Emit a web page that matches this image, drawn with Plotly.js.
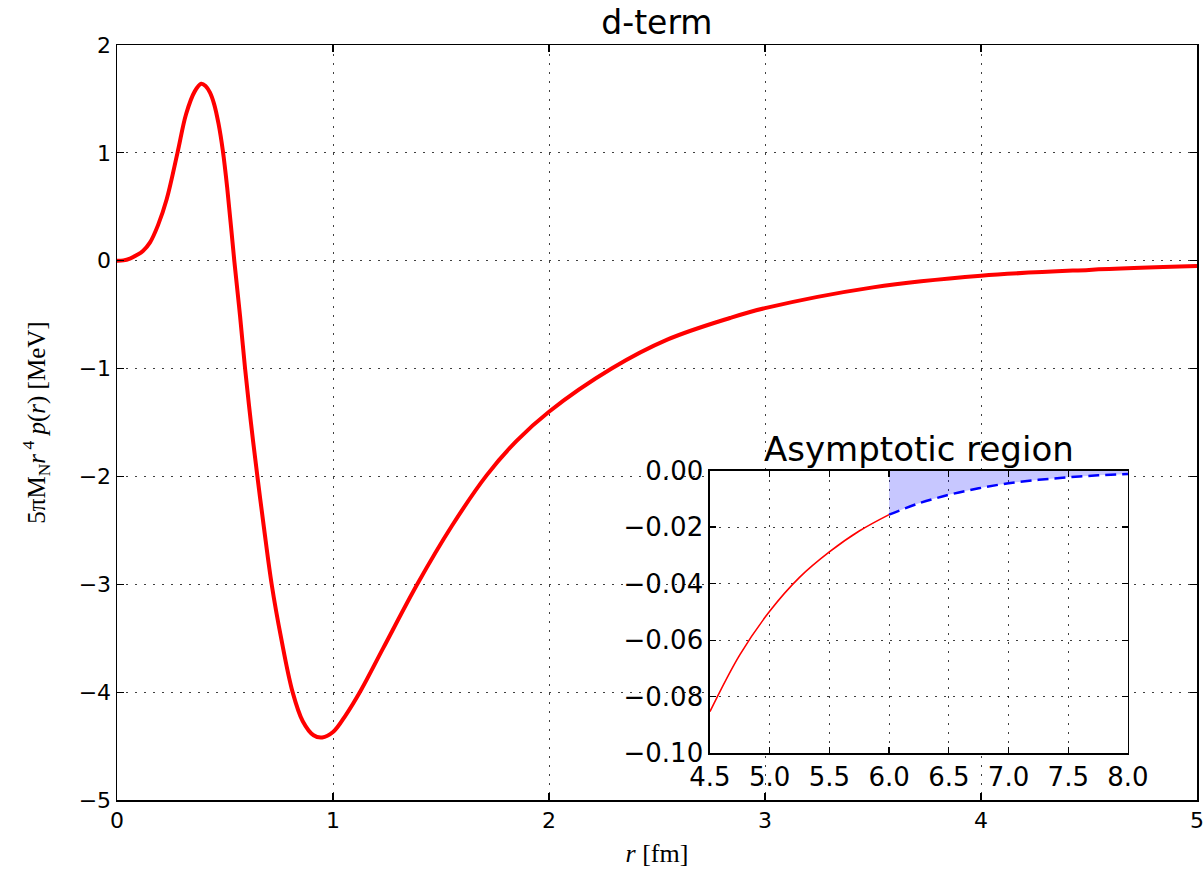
<!DOCTYPE html>
<html>
<head>
<meta charset="utf-8">
<script src="https://cdn.plot.ly/plotly-3.0.1.min.js"></script>
<style>
  html, body { margin: 0; padding: 0; background: #fff; }
  #chart { width: 1204px; height: 869px; }
</style>
</head>
<body>
<div id="chart"></div>
<script>
// ---- Main curve: r [fm] vs 5πM_N r^4 p(r) [MeV]
const rMain = [0, 0.03, 0.06, 0.09, 0.12, 0.153, 0.19, 0.23, 0.28, 0.32, 0.36, 0.39, 0.41, 0.43, 0.45, 0.47, 0.49, 0.51, 0.543, 0.57, 0.593, 0.62, 0.65, 0.68, 0.716, 0.76, 0.813, 0.86, 0.91, 0.95, 1.0, 1.06, 1.13, 1.233, 1.39, 1.55, 1.711, 1.85, 2.0, 2.29, 2.55, 2.838, 3.0, 3.5, 4.0, 4.5, 5.0];
const vMain = [0, 0.003, 0.02, 0.05, 0.09, 0.17, 0.33, 0.57, 1.0, 1.36, 1.57, 1.64, 1.62, 1.56, 1.45, 1.27, 1.02, 0.68, 0, -0.52, -1.0, -1.5, -2.0, -2.47, -3.0, -3.5, -4.0, -4.27, -4.40, -4.42, -4.37, -4.21, -3.98, -3.59, -3.0, -2.46, -1.99, -1.67, -1.40, -1.0, -0.73, -0.531, -0.44, -0.247, -0.139, -0.085, -0.05];

// ---- Inset: asymptotic region
const rInsetRed = [4.5, 4.75, 5.0, 5.25, 5.5, 5.75, 6.0];
const vInsetRed = [-0.0853, -0.0652, -0.0498, -0.0378, -0.0288, -0.0214, -0.0156];
const rInsetBlue = [6.0, 6.25, 6.5, 6.75, 7.0, 7.25, 7.5, 7.75, 8.0];
const vInsetBlue = [-0.0156, -0.0116, -0.0086, -0.0063, -0.0045, -0.0033, -0.0024, -0.0017, -0.0012];

// ---- Tick labels
const mainXTicks = [0, 1, 2, 3, 4, 5];
const mainXLabels = ["0", "1", "2", "3", "4", "5"];
const mainYTicks = [-5, -4, -3, -2, -1, 0, 1, 2];
const mainYLabels = ["\u22125", "\u22124", "\u22123", "\u22122", "\u22121", "0", "1", "2"];
const insetXTicks = [4.5, 5.0, 5.5, 6.0, 6.5, 7.0, 7.5, 8.0];
const insetXLabels = ["4.5", "5.0", "5.5", "6.0", "6.5", "7.0", "7.5", "8.0"];
const insetYTicks = [-0.10, -0.08, -0.06, -0.04, -0.02, 0.00];
const insetYLabels = ["\u22120.10", "\u22120.08", "\u22120.06", "\u22120.04", "\u22120.02", "0.00"];

const sans = "DejaVu Sans, sans-serif";
const serif = "Liberation Serif, DejaVu Serif, serif";
const gridDash = "2px,7px";
const gridColor = "rgba(0,0,0,0.75)";

const traces = [
  {
    x: rMain, y: vMain, type: "scatter", mode: "lines",
    line: { color: "#ff0000", width: 4, shape: "spline", smoothing: 1 },
    xaxis: "x", yaxis: "y", hoverinfo: "skip"
  },
  {
    x: rInsetBlue, y: vInsetBlue, type: "scatter", mode: "lines",
    fill: "tozeroy", fillcolor: "rgba(0,0,255,0.22)",
    line: { color: "rgba(0,0,0,0)", width: 0, shape: "spline" },
    xaxis: "x2", yaxis: "y2", hoverinfo: "skip"
  },
  {
    x: rInsetRed, y: vInsetRed, type: "scatter", mode: "lines",
    line: { color: "#ff0000", width: 1.6, shape: "spline" },
    xaxis: "x2", yaxis: "y2", hoverinfo: "skip"
  },
  {
    x: rInsetBlue, y: vInsetBlue, type: "scatter", mode: "lines",
    line: { color: "#0000ff", width: 2.5, dash: "11px,6px", shape: "spline" },
    xaxis: "x2", yaxis: "y2", hoverinfo: "skip"
  }
];

const axisCommon = {
  showline: true, linecolor: "#000", linewidth: 1.5, mirror: "ticks",
  ticks: "inside", tickcolor: "#000", tickwidth: 1.2,
  showgrid: true, gridcolor: gridColor, griddash: gridDash, gridwidth: 1,
  zeroline: false, tickmode: "array", fixedrange: true
};

const layout = {
  width: 1204, height: 869,
  paper_bgcolor: "#ffffff", plot_bgcolor: "#ffffff",
  showlegend: false,
  margin: { l: 117, r: 7, t: 45, b: 69, pad: 0 },
  title: {
    text: "d-term", font: { family: sans, size: 33, color: "#000" },
    x: 0.5456, xref: "container", y: 1 - 22 / 869, yref: "container", yanchor: "middle", xanchor: "center"
  },
  xaxis: Object.assign({}, axisCommon, {
    domain: [0, 1], range: [0, 5], ticklen: 7,
    tickvals: mainXTicks, ticktext: mainXLabels,
    tickfont: { family: sans, size: 22, color: "#000" },
    title: { text: "<i>r</i> [fm]", font: { family: serif, size: 26, color: "#000" }, standoff: 12 },
    anchor: "y"
  }),
  yaxis: Object.assign({}, axisCommon, {
    domain: [0, 1], range: [-5, 2], ticklen: 7,
    tickvals: mainYTicks, ticktext: mainYLabels,
    tickfont: { family: sans, size: 22, color: "#000" },
    title: { text: "5πM<sub>N</sub><i>r</i><sup> 4</sup> <i>p</i>(<i>r</i>) [MeV]", font: { family: serif, size: 25, color: "#000" }, standoff: 26 },
    anchor: "x"
  }),
  xaxis2: Object.assign({}, axisCommon, {
    domain: [0.549, 0.9361], range: [4.5, 8.0], ticklen: 6,
    tickvals: insetXTicks, ticktext: insetXLabels,
    tickfont: { family: sans, size: 26, color: "#000" },
    anchor: "y2"
  }),
  yaxis2: Object.assign({}, axisCommon, {
    domain: [0.0619, 0.4364], range: [-0.10, 0.0], ticklen: 6,
    tickvals: insetYTicks, ticktext: insetYLabels,
    tickfont: { family: sans, size: 26, color: "#000" },
    anchor: "x2"
  }),
  annotations: [
    {
      text: "Asymptotic region", xref: "paper", yref: "paper",
      x: 0.7426, y: 0.4649, xanchor: "center", yanchor: "middle",
      showarrow: false, font: { family: sans, size: 34, color: "#000" }
    }
  ]
};

Plotly.newPlot("chart", traces, layout, { staticPlot: true, displayModeBar: false });
</script>
</body>
</html>
